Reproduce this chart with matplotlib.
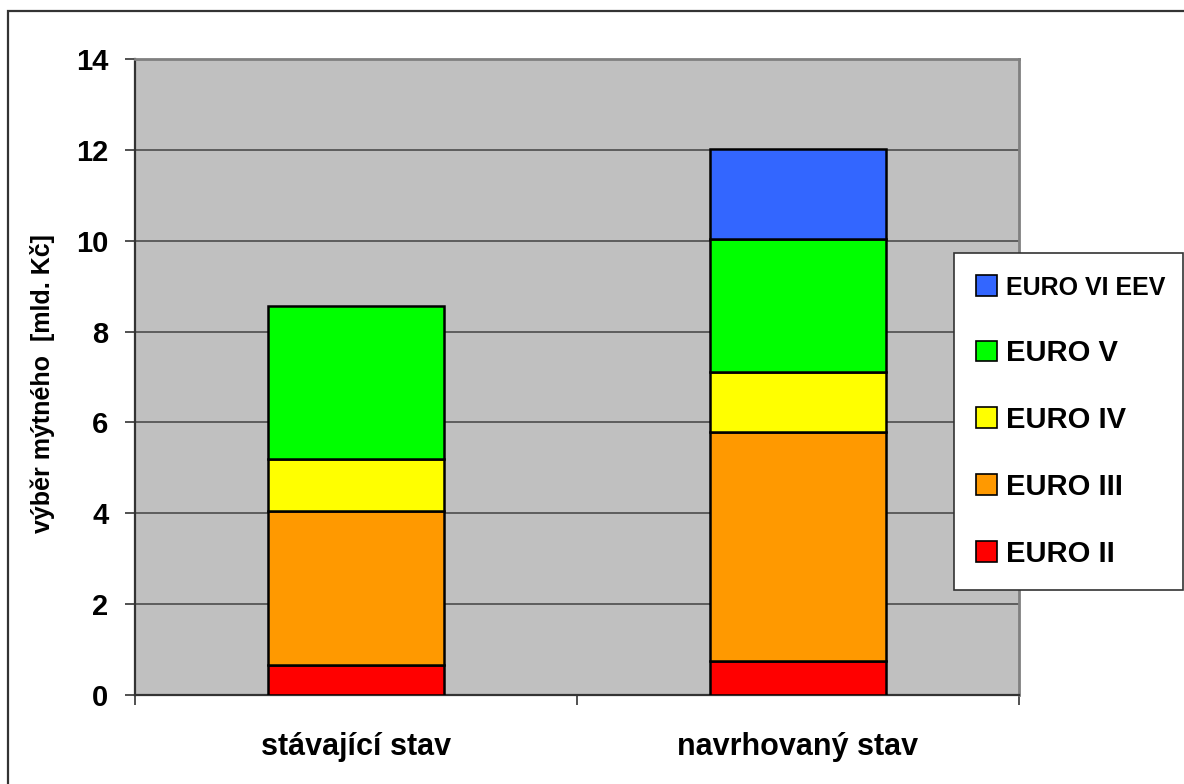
import matplotlib
matplotlib.use("Agg")
import matplotlib.pyplot as plt
from matplotlib.patches import Rectangle, Patch
import numpy as np

plt.rcParams['font.family'] = ['Liberation Sans', 'DejaVu Sans']
plt.rcParams['font.weight'] = 'bold'

categories = ["stávající stav", "navrhovaný stav"]
series_names = ["EURO II", "EURO III", "EURO IV", "EURO V", "EURO VI EEV"]
euro_ii = [0.66, 0.74]
euro_iii = [3.39, 5.04]
euro_iv = [1.14, 1.32]
euro_v = [3.38, 2.93]
euro_vi_eev = [0.0, 1.99]
series_colors = ["#FF0000", "#FF9900", "#FFFF00", "#00FF00", "#3366FF"]
y_ticks = [0, 2, 4, 6, 8, 10, 12, 14]

W, H, DPI = 1184, 784, 100
fig = plt.figure(figsize=(W / DPI, H / DPI), dpi=DPI)
fig.patch.set_facecolor("white")

# outer chart frame (right and bottom edges run off the canvas)
fig.patches.append(Rectangle((8 / W, -0.05), 1.1, (773 / H) + 0.05,
                             transform=fig.transFigure, fill=False,
                             edgecolor="#333333", linewidth=1.6))

ax = fig.add_axes([135 / W, 1 - 695 / H, (1019 - 135) / W, (695 - 59) / H])
ax.set_facecolor("#C0C0C0")

x = np.arange(len(categories))
bottom = np.zeros(len(categories))
all_series = [euro_ii, euro_iii, euro_iv, euro_v, euro_vi_eev]
handles = []
for name, vals, col in zip(series_names, all_series, series_colors):
    vals = np.array(vals)
    mask = vals > 0
    ax.bar(x[mask], vals[mask], width=0.4, bottom=bottom[mask], color=col,
           edgecolor="black", linewidth=1.8, zorder=3)
    bottom += vals
    handles.append(Patch(facecolor=col, edgecolor="black", linewidth=1.2, label=name))

ax.set_xlim(-0.5, 1.5)
ax.set_ylim(0, 14)
ax.set_yticks(y_ticks)
ax.set_yticklabels([str(t) for t in y_ticks], fontsize=21, fontweight="bold")
ax.yaxis.grid(True, color="#555555", linewidth=1.3, zorder=1)
ax.set_axisbelow(True)

ax.set_xticks(x)
ax.set_xticklabels(categories, fontsize=22, fontweight="bold")
ax.set_xticks([-0.5, 0.5, 1.5], minor=True)
ax.tick_params(axis="x", which="major", length=0, pad=27)
ax.tick_params(axis="x", which="minor", length=7, width=1.2, color="#333333", direction="out")
ax.tick_params(axis="y", length=7, width=1.2, color="#333333", direction="out", pad=12)

for side in ["left", "bottom"]:
    ax.spines[side].set_color("#333333")
    ax.spines[side].set_linewidth(1.6)
for side in ["top", "right"]:
    ax.spines[side].set_color("#808080")
    ax.spines[side].set_linewidth(2.0)

ax.set_ylabel("výběr mýtného  [mld. Kč]", fontsize=18, fontweight="bold")
ax.yaxis.set_label_coords(-0.091, 0.49)

leg = fig.legend(handles=handles[::-1], loc="upper left",
                 bbox_to_anchor=(954 / W, 1 - 253 / H, (1183 - 954) / W, 0.0),
                 mode="expand", prop={"weight": "bold", "size": 21},
                 frameon=True, fancybox=False, borderpad=0.75, labelspacing=1.33,
                 handlelength=0.72, handleheight=0.72, handletextpad=0.3,
                 borderaxespad=0.0, framealpha=1.0, facecolor="white")
leg.get_frame().set_edgecolor("#333333")
leg.get_frame().set_linewidth(1.2)
leg.get_texts()[0].set_fontsize(18)

fig.savefig("out.png", dpi=DPI)
